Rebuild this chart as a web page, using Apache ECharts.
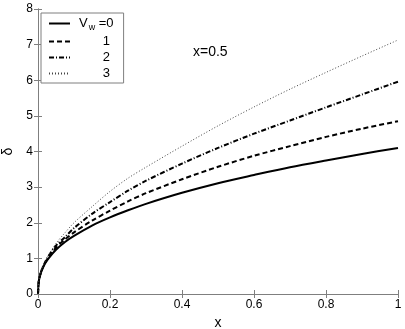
<!DOCTYPE html>
<html>
<head>
<meta charset="utf-8">
<script src="https://cdn.jsdelivr.net/npm/echarts@6/dist/echarts.min.js"></script>
<style>
  html, body { margin: 0; padding: 0; background: #fff; }
  #chart { width: 405px; height: 329px; }
</style>
</head>
<body>
<div id="chart"></div>
<script>
var xs = [0, 0.002, 0.005, 0.01, 0.02, 0.03, 0.05, 0.075, 0.1, 0.15, 0.2, 0.25, 0.3, 0.4, 0.5, 0.6, 0.7, 0.8, 0.9, 1.0];
var vw0 = [0, 0.34, 0.49, 0.65, 0.86, 1.01, 1.24, 1.46, 1.63, 1.92, 2.15, 2.35, 2.53, 2.84, 3.11, 3.34, 3.56, 3.75, 3.93, 4.1];
var vw1 = [0, 0.34, 0.49, 0.66, 0.88, 1.04, 1.3, 1.53, 1.73, 2.06, 2.34, 2.6, 2.83, 3.22, 3.57, 3.88, 4.15, 4.41, 4.64, 4.85];
var vw2 = [0, 0.34, 0.5, 0.67, 0.9, 1.08, 1.36, 1.6, 1.85, 2.25, 2.58, 2.9, 3.18, 3.66, 4.1, 4.5, 4.87, 5.24, 5.6, 5.96];
var vw3 = [0, 0.34, 0.5, 0.68, 0.92, 1.1, 1.42, 1.72, 2.0, 2.45, 2.88, 3.25, 3.56, 4.15, 4.72, 5.25, 5.75, 6.22, 6.68, 7.13];
var names = ["0", "1", "2", "3"];
var xTicks = [0, 0.2, 0.4, 0.6, 0.8, 1];
var yTicks = [0, 1, 2, 3, 4, 5, 6, 7, 8];

function pairs(ys) {
  return xs.map(function (x, i) { return [x, ys[i]]; });
}

var chart = echarts.init(document.getElementById("chart"));
var axisGray = "#7f7f7f";
var font = "Liberation Sans, Arial, sans-serif";

var baseX = {
  type: "value", min: 0, max: 1, interval: 0.2,
  axisLine: { show: true, lineStyle: { color: axisGray, width: 1 } },
  axisTick: { show: true, inside: true, length: 4, lineStyle: { color: axisGray } },
  splitLine: { show: false }
};
var baseY = {
  type: "value", min: 0, max: 8, interval: 1,
  axisLine: { show: true, lineStyle: { color: axisGray, width: 1 } },
  axisTick: { show: true, inside: true, length: 4, lineStyle: { color: axisGray } },
  splitLine: { show: false }
};

var option = {
  animation: false,
  backgroundColor: "#fff",
  grid: { left: 38, right: 7, top: 9, bottom: 35, outerBoundsMode: "none", containLabel: false },
  title: {
    text: "x=0.5",
    left: 188, top: 40,
    textStyle: { fontSize: 14, fontWeight: "normal", color: "#000", fontFamily: font }
  },
  legend: {
    orient: "vertical",
    left: 41, top: 13,
    padding: [4, 10, 3, 7],
    itemWidth: 21, itemHeight: 10, itemGap: 3,
    backgroundColor: "#fff",
    borderColor: axisGray, borderWidth: 1, borderRadius: 0,
    data: names,
    itemStyle: { opacity: 0 },
    formatter: function (n) {
      if (n === "0") return "{v|V}{s|w}{e| =0}";
      return "{r|" + n + "}";
    },
    textStyle: {
      color: "#000", fontFamily: font, fontSize: 13,
      rich: {
        v: { fontSize: 13, fontFamily: font, color: "#000", padding: [0, 0, 0, 4] },
        s: { fontSize: 9, fontFamily: font, color: "#000", padding: [8, 0, 0, 1] },
        e: { fontSize: 13, fontFamily: font, color: "#000" },
        r: { fontSize: 13, fontFamily: font, color: "#000", width: 35, align: "right" }
      }
    }
  },
  xAxis: [
    Object.assign({}, baseX, {
      name: "x", nameLocation: "middle", nameGap: 20,
      nameTextStyle: { fontSize: 14, color: "#000", fontFamily: font },
      axisLabel: {
        color: "#000", fontSize: 12, fontFamily: font, margin: 5,
        formatter: function (v) { return xTicks.indexOf(v) >= 0 ? String(v) : ""; }
      }
    }),
    Object.assign({}, baseX, { position: "top", axisLabel: { show: false } })
  ],
  yAxis: [
    Object.assign({}, baseY, {
      name: "δ", nameLocation: "middle", nameGap: 22, nameRotate: 90,
      nameTextStyle: { fontSize: 14, color: "#000", fontFamily: font },
      axisLabel: {
        color: "#000", fontSize: 12, fontFamily: font, margin: 5,
        formatter: function (v) { return yTicks.indexOf(v) >= 0 ? String(v) : ""; }
      }
    }),
    Object.assign({}, baseY, { position: "right", axisLabel: { show: false } })
  ],
  series: [
    { name: "0", type: "line", data: pairs(vw0), symbol: "none", smooth: 0.3,
      lineStyle: { color: "#000", width: 2, type: "solid" }, itemStyle: { color: "#000" } },
    { name: "1", type: "line", data: pairs(vw1), symbol: "none", smooth: 0.3,
      lineStyle: { color: "#000", width: 2, type: [5, 3] }, itemStyle: { color: "#000" } },
    { name: "2", type: "line", data: pairs(vw2), symbol: "none", smooth: 0.3,
      lineStyle: { color: "#000", width: 2, type: [5, 2, 1, 2] }, itemStyle: { color: "#000" } },
    { name: "3", type: "line", data: pairs(vw3), symbol: "none", smooth: 0.3,
      lineStyle: { color: "#444", width: 1, type: [1, 2] }, itemStyle: { color: "#444" } }
  ]
};
chart.setOption(option);

window.addEventListener("resize", function () {
  chart.resize();
});
</script>
</body>
</html>
